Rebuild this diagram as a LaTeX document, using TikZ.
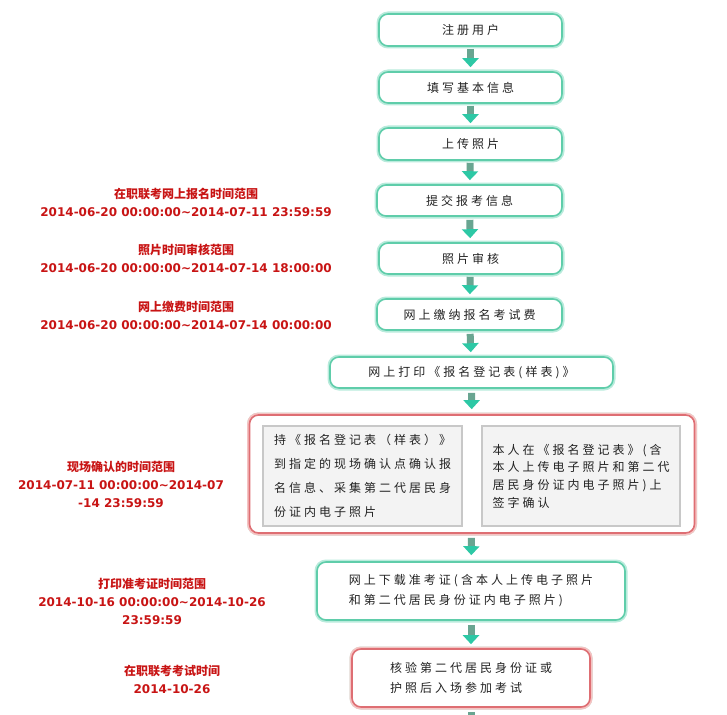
\documentclass[tikz,border=0pt]{standalone}
\usepackage{fontspec}
\setmainfont{DejaVu Sans}
\newfontfamily\cjk[LetterSpace=25]{Noto Sans CJK SC}
\newfontfamily\cjkt{Noto Sans CJK SC}
\usetikzlibrary{arrows.meta}
\definecolor{gline}{RGB}{95,205,170}
\definecolor{gglow}{RGB}{185,235,220}
\definecolor{rline}{RGB}{222,110,115}
\definecolor{rglow}{RGB}{245,195,195}
\definecolor{grayfill}{RGB}{243,243,243}
\definecolor{grayline}{RGB}{200,200,200}
\definecolor{redtext}{RGB}{200,20,20}
\definecolor{boxtext}{RGB}{35,35,35}
\definecolor{arrstem}{RGB}{105,165,145}
\definecolor{arrhead}{RGB}{45,200,165}
\tikzset{
  gbox/.style={rounded corners=9pt, fill=white, draw=gline, line width=1.6pt,
    preaction={draw=gglow, line width=5pt}, inner sep=0pt, align=left,
    text=boxtext, font=\cjk\fontsize{12}{20}\selectfont},
  rbox/.style={gbox, draw=rline, preaction={draw=rglow, line width=5pt}},
  graybox/.style={fill=grayfill, draw=grayline, line width=1.2pt, inner sep=0pt,
    align=left, text=boxtext},
  datelabel/.style={text=redtext, align=center, font=\fontsize{12}{18}\selectfont},
  flow/.style={line width=7pt, draw=arrstem,
    -{Triangle[width=16pt,length=9pt,fill=arrhead,color=arrhead]}}
}
\begin{document}
\begin{tikzpicture}[x=1pt,y=-1pt]
\useasboundingbox (0,0) rectangle (727,714);
\clip (0,0) rectangle (727,714);
% flow boxes
\node[gbox, minimum width=183pt, minimum height=32pt] (b1) at (470.5,30) {注册用户};
\node[gbox, minimum width=183pt, minimum height=31pt] (b2) at (470.5,87.5) {填写基本信息};
\node[gbox, minimum width=183pt, minimum height=32pt] (b3) at (470.5,144) {上传照片};
\node[gbox, minimum width=185pt, minimum height=31pt] (b4) at (469.5,200.5) {提交报考信息};
\node[gbox, minimum width=183pt, minimum height=31pt] (b5) at (470.5,258.5) {照片审核};
\node[gbox, minimum width=185pt, minimum height=31pt] (b6) at (469.5,314.5) {网上缴纳报名考试费};
\node[gbox, minimum width=283pt, minimum height=31pt] (b7) at (471.5,372.5) {网上打印《报名登记表(样表)》};
\node[rbox, minimum width=445pt, minimum height=118pt] (b8) at (472,474) {};
\node[graybox, minimum width=199pt, minimum height=100pt, font=\cjk\fontsize{12}{24}\selectfont] (g1) at (362.5,476)
  {持《报名登记表（样表）》\\到指定的现场确认点确认报\\名信息、采集第二代居民身\\份证内电子照片};
\node[graybox, minimum width=198pt, minimum height=100pt, font=\cjk\fontsize{12}{17.7}\selectfont] (g2) at (581,476)
  {本人在《报名登记表》(含\\本人上传电子照片和第二代\\居民身份证内电子照片)上\\签字确认};
\node[gbox, minimum width=308pt, minimum height=58pt] (b9) at (471,591)
  {网上下载准考证(含本人上传电子照片\\和第二代居民身份证内电子照片)};
\node[rbox, minimum width=238pt, minimum height=58pt] (b10) at (471,678)
  {核验第二代居民身份证或\\护照后入场参加考试};
\coordinate (end) at (471,735);
% connectors
\draw[flow, shorten <=2pt, shorten >=4pt] (b1) -- (b2);
\draw[flow, shorten <=2pt, shorten >=4pt] (b2) -- (b3);
\draw[flow, shorten <=2pt, shorten >=4pt] (b3) -- (b4);
\draw[flow, shorten <=3pt, shorten >=4pt] (b4) -- (b5);
\draw[flow, shorten <=2pt, shorten >=4pt] (b5) -- (b6);
\draw[flow, shorten <=3pt, shorten >=4pt] (b6) -- (b7);
\draw[flow, shorten <=4pt, shorten >=5pt] (b7) -- (b8);
\draw[flow, shorten <=4pt, shorten >=6pt] (b8) -- (b9);
\draw[flow, shorten <=4pt, shorten >=4pt] (b9) -- (b10);
\draw[flow, shorten <=4pt] (b10) -- (end);
% time labels
\node[datelabel] (t1) at (186,202) {{\cjkt\bfseries 在职联考网上报名时间范围}\\{\bfseries 2014-06-20 00:00:00\textasciitilde 2014-07-11 23:59:59}};
\node[datelabel] (t2) at (186,258.5) {{\cjkt\bfseries 照片时间审核范围}\\{\bfseries 2014-06-20 00:00:00\textasciitilde 2014-07-14 18:00:00}};
\node[datelabel] (t3) at (186,315.5) {{\cjkt\bfseries 网上缴费时间范围}\\{\bfseries 2014-06-20 00:00:00\textasciitilde 2014-07-14 00:00:00}};
\node[datelabel] (t4) at (121,484) {{\cjkt\bfseries 现场确认的时间范围}\\{\bfseries 2014-07-11 00:00:00\textasciitilde 2014-07}\\{\bfseries -14 23:59:59}};
\node[datelabel] (t5) at (152,601.5) {{\cjkt\bfseries 打印准考证时间范围}\\{\bfseries 2014-10-16 00:00:00\textasciitilde 2014-10-26}\\{\bfseries 23:59:59}};
\node[datelabel] (t6) at (172,679) {{\cjkt\bfseries 在职联考考试时间}\\{\bfseries 2014-10-26}};
\end{tikzpicture}
\end{document}
